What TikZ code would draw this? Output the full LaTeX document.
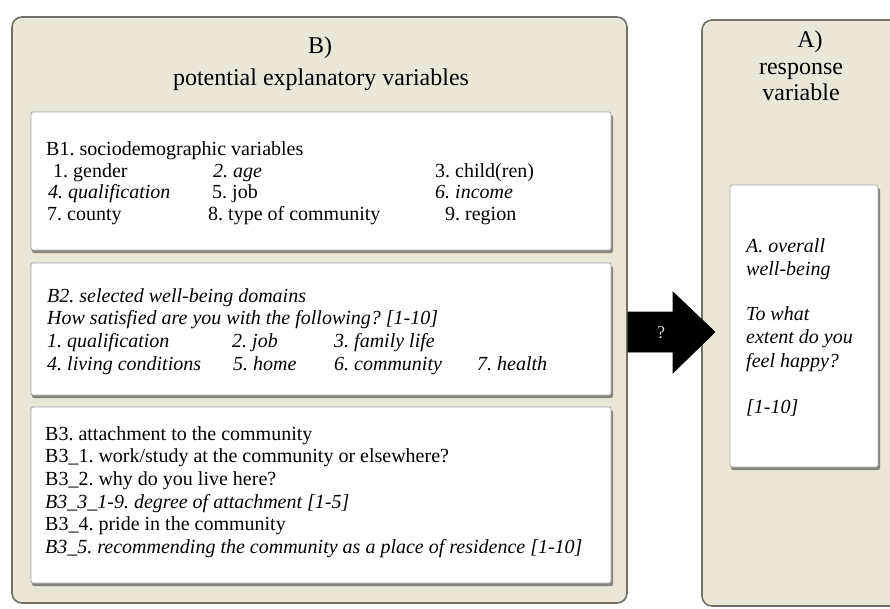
\documentclass[tikz,border=0pt]{standalone}
\usepackage{fontspec}
\setmainfont{Liberation Serif}
\definecolor{panelbg}{HTML}{EAE7D6}
\definecolor{panelline}{HTML}{707068}
\definecolor{boxline}{HTML}{A8A8A4}
\definecolor{shadowc}{HTML}{85857F}
\tikzset{
  panel/.style={fill=panelbg, draw=panelline, line width=1.6pt, rounded corners=10pt},
  card/.style={fill=white, draw=boxline, line width=0.8pt, rounded corners=2pt},
  cardshadow/.style={fill=shadowc, draw=none, rounded corners=2pt},
  txt/.style={anchor=base west, inner sep=0pt, font=\fontsize{20}{22}\selectfont},
  itxt/.style={txt, font=\fontsize{20}{22}\selectfont\itshape},
  head/.style={anchor=base, inner sep=0pt, font=\fontsize{24}{28}\selectfont},
  blockarrow/.style={fill=black, draw=black, line width=0.6pt, line join=miter},
}
\begin{document}
\frenchspacing
\begin{tikzpicture}[x=1pt,y=-1pt]
\useasboundingbox (0,0) rectangle (890,608);
\clip (0,0) rectangle (890,608);

% panels
\draw[panel] (12,17) rectangle (627,603);
\draw[panel] (702,20) rectangle (910,606);

% headers
\node[head] (bh1) at (320,53) {B)};
\node[head] (bh2) at (321,85) {potential explanatory variables};
\node[head] (ah1) at (810,47) {A)};
\node[head] (ah2) at (801,74) {response};
\node[head] (ah3) at (801,100) {variable};

% B1 card
\fill[cardshadow] (32,115) rectangle (613,253);
\draw[card] (31,112) rectangle (611,250);
\node[txt] (b1t) at (46,155) {B1. sociodemographic variables};
\node[txt] (b11) at (53,177) {1. gender};
\node[itxt] (b12) at (213,177) {2. age};
\node[txt] (b13) at (435,177) {3. child(ren)};
\node[itxt] (b14) at (48,198) {4. qualification};
\node[txt] (b15) at (212,198) {5. job};
\node[itxt] (b16) at (435,198) {6. income};
\node[txt] (b17) at (47,220) {7. county};
\node[txt] (b18) at (208,220) {8. type of community};
\node[txt] (b19) at (445,220) {9. region};

% B2 card
\fill[cardshadow] (32,266) rectangle (613,398);
\draw[card] (31,263) rectangle (611,395);
\node[itxt] (b2t) at (47,302) {B2. selected well-being domains};
\node[itxt] (b2q) at (47,324) {How satisfied are you with the following? [1-10]};
\node[itxt] (b21) at (47,347) {1. qualification};
\node[itxt] (b22) at (232,347) {2. job};
\node[itxt] (b23) at (334,347) {3. family life};
\node[itxt] (b24) at (47,370) {4. living conditions};
\node[itxt] (b25) at (233,370) {5. home};
\node[itxt] (b26) at (334,370) {6. community};
\node[itxt] (b27) at (477,370) {7. health};

% B3 card
\fill[cardshadow] (32,410) rectangle (613,586);
\draw[card] (31,407) rectangle (611,583);
\node[txt] (b3t) at (45,440) {B3. attachment to the community};
\node[txt] (b31) at (45,462.5) {B3\_1. work/study at the community or elsewhere?};
\node[txt] (b32) at (45,485) {B3\_2. why do you live here?};
\node[itxt] (b33) at (45,508) {B3\_3\_1-9. degree of attachment [1-5]};
\node[txt] (b34) at (45,530.5) {B3\_4. pride in the community};
\node[itxt] (b35) at (45,553) {B3\_5. recommending the community as a place of residence [1-10]};

% A card
\fill[cardshadow] (731,188) rectangle (880,470);
\draw[card] (730,185) rectangle (878,467);
\node[itxt] (a1) at (746,252) {A. overall};
\node[itxt] (a2) at (746,275) {well-being};
\node[itxt] (a3) at (746,320) {To what};
\node[itxt] (a4) at (746,343) {extent do you};
\node[itxt] (a5) at (746,367) {feel happy?};
\node[itxt] (a6) at (746,413) {[1-10]};

% block arrow
\draw[blockarrow] (628,312) -- (673,312) -- (673,292) -- (715,332) -- (673,373) -- (673,352) -- (628,352) -- cycle;
\node[text=white!85!black, inner sep=0pt, font=\fontsize{18}{20}\selectfont] (q) at (661,333) {?};
\end{tikzpicture}
\end{document}
